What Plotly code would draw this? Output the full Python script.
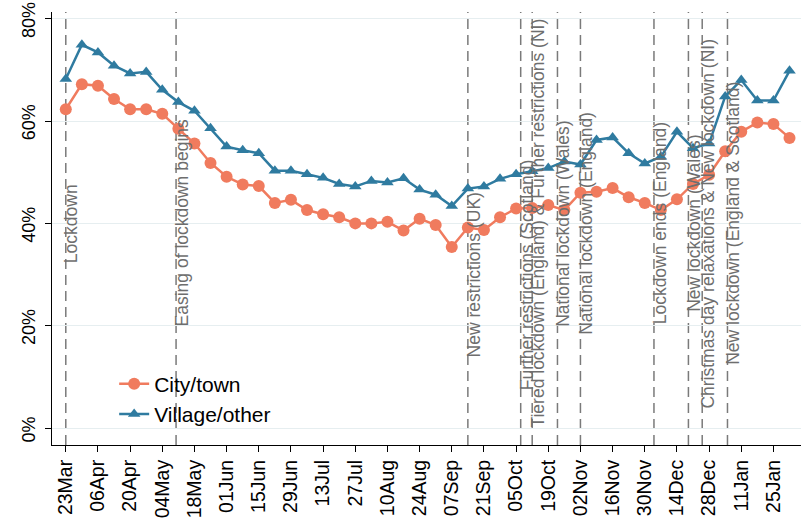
import pandas as pd
import plotly.graph_objects as go

# ---- data ----
start_date = "2020-03-23"
n_weeks = 46
dates = pd.date_range(start_date, periods=n_weeks, freq="7D")

city_town = [62.3, 67.2, 66.9, 64.3, 62.3, 62.3, 61.4, 58.5, 55.6, 51.8,
             49.1, 47.6, 47.3, 44.0, 44.6, 42.6, 41.8, 41.2, 40.0, 40.0,
             40.3, 38.6, 40.9, 39.7, 35.4, 39.2, 38.7, 41.2, 42.9, 43.0,
             43.6, 42.6, 46.0, 46.2, 46.9, 45.1, 44.0, 42.6, 44.7, 47.7,
             49.5, 54.1, 57.9, 59.7, 59.4, 56.7]
village_other = [68.2, 74.9, 73.4, 70.8, 69.3, 69.6, 66.1, 63.7, 62.0, 58.6,
                 55.0, 54.3, 53.7, 50.3, 50.3, 49.6, 48.9, 47.7, 47.2, 48.3,
                 48.0, 48.8, 46.6, 45.6, 43.4, 46.8, 47.2, 48.7, 49.6, 50.2,
                 50.8, 52.1, 51.5, 56.3, 56.8, 53.7, 51.7, 53.0, 57.9, 54.7,
                 55.6, 64.8, 68.0, 64.0, 64.0, 69.8]

event_dates = ["2020-03-23", "2020-05-10", "2020-09-14", "2020-10-07", "2020-10-12",
               "2020-10-23", "2020-11-02", "2020-12-04", "2020-12-19", "2020-12-25",
               "2021-01-05"]
event_labels = ["Lockdown", "Easing of lockdown begins", "New restrictions (UK)",
                "Further restrictions (Scotland)",
                "Tiered lockdown (England) & Further restrictions (NI)",
                "National lockdown (Wales)", "National lockdown (England)",
                "Lockdown ends (England)", "New lockdown (Wales)",
                "Christmas day relaxations & New lockdown (NI)",
                "New lockdown (England & Scotland)"]
event_label_y = [40, 40, 30, 30, 40, 40, 40, 40, 40, 40, 40]

y_ticks = [0, 20, 40, 60, 80]
y_tick_labels = ["0%", "20%", "40%", "60%", "80%"]
x_tick_dates = pd.date_range(start_date, "2021-01-25", freq="14D")

# ---- styling ----
RED = "#F07B5E"
BLUE = "#2F7BA0"
GREY = "#6E6E6E"
FONT = "Liberation Sans, Arial, sans-serif"

fig = go.Figure()
fig.add_trace(go.Scatter(
    x=dates, y=city_town, name="City/town", mode="lines+markers",
    line=dict(color=RED, width=2.5),
    marker=dict(symbol="circle", size=12, color=RED)))
fig.add_trace(go.Scatter(
    x=dates, y=village_other, name="Village/other", mode="lines+markers",
    line=dict(color=BLUE, width=2.5),
    marker=dict(symbol="triangle-up", size=11, color=BLUE)))

for d, lab, ly in zip(event_dates, event_labels, event_label_y):
    fig.add_shape(type="line", xref="x", yref="paper", x0=d, x1=d, y0=0, y1=1,
                  line=dict(color="#7A7A7A", width=1.5, dash="10px,6px"),
                  layer="between")
    fig.add_annotation(x=d, y=ly, xref="x", yref="y", text=lab, showarrow=False,
                       textangle=-90, xanchor="center", yanchor="middle", xshift=6,
                       font=dict(family=FONT, size=17.5, color=GREY))

fig.update_layout(
    width=809, height=525, autosize=False,
    margin=dict(l=52, r=8, t=12, b=80, autoexpand=False),
    paper_bgcolor="white", plot_bgcolor="white",
    font=dict(family=FONT, color="black"),
    legend=dict(x=0.083, y=0.188, xanchor="left", yanchor="top",
                bgcolor="rgba(0,0,0,0)", font=dict(size=21, color="black"),
                tracegroupgap=0, itemwidth=30),
    showlegend=True,
)
fig.update_xaxes(
    type="date", range=["2020-03-17", "2021-02-06"],
    tickvals=list(x_tick_dates), tickformat="%d%b", tickangle=-90,
    tickfont=dict(size=19.5, color="black"), automargin=False,
    showgrid=False, zeroline=False,
    showline=True, linecolor="black", linewidth=1,
    ticks="outside", ticklen=6, tickcolor="black")
fig.update_yaxes(
    range=[-3.3, 81.3], tickvals=y_ticks, ticktext=y_tick_labels, tickangle=-90,
    tickfont=dict(size=18, color="black"), automargin=False,
    ticklabelstandoff=3, ticklabelshift=4, ticklabeloverflow="allow",
    showgrid=True, gridcolor="#E6EEF0", gridwidth=1, zeroline=False,
    showline=True, linecolor="black", linewidth=1,
    ticks="outside", ticklen=6, tickcolor="black")

fig.write_html("out.html",
               config={"displayModeBar": False},
               post_script="document.body.style.margin='0';")
